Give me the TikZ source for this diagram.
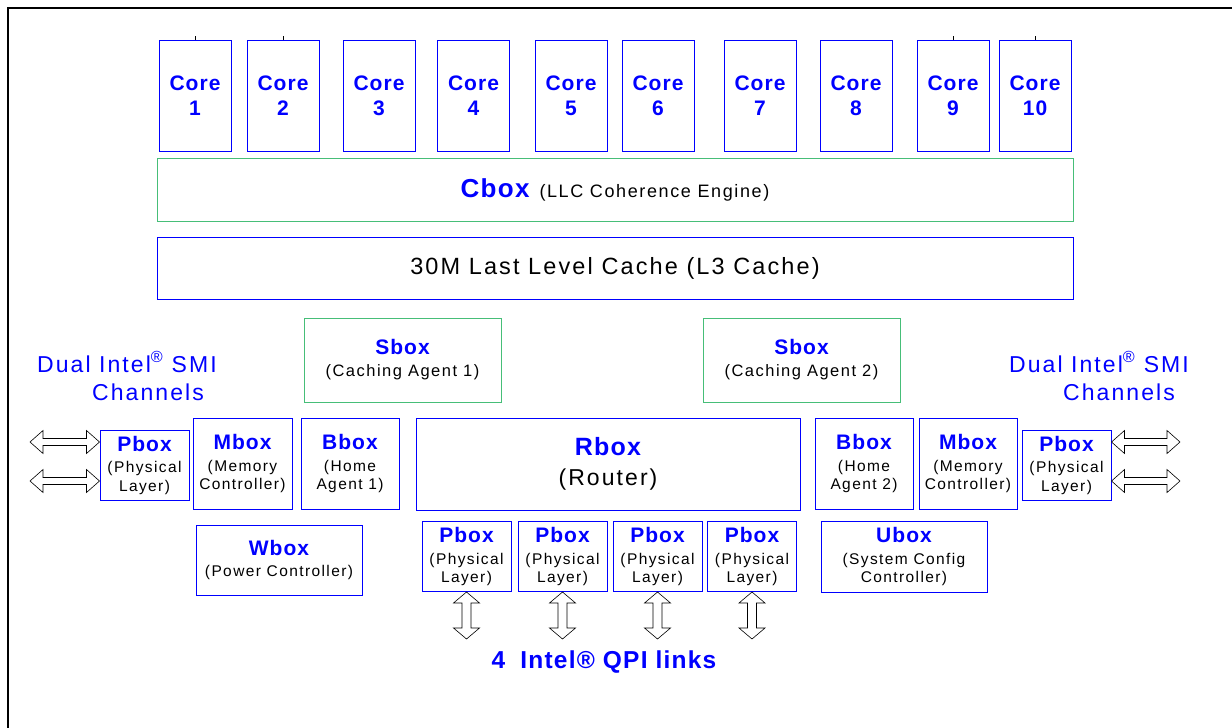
\documentclass[tikz,border=0pt]{standalone}
\usepackage{fontspec}
\setmainfont{Liberation Sans}[UprightFeatures={LetterSpace=9}, BoldFeatures={LetterSpace=5}]
\usetikzlibrary{calc}

\definecolor{intelblue}{RGB}{0,0,255}
\definecolor{agentgreen}{RGB}{70,190,120}
\newcommand{\unittitle}[1]{{\color{intelblue}\bfseries\fontsize{21}{24}\selectfont #1}}

\begin{document}
\begin{tikzpicture}[x=1pt, y=-1pt,
    unit/.style={draw=intelblue, line width=1pt, inner sep=0pt, align=center,
                 font=\fontsize{15.5}{18.5}\selectfont},
    core/.style={unit, minimum width=72, minimum height=111, text=intelblue,
                 font=\bfseries\fontsize{21}{25}\selectfont},
    phy/.style={unit, minimum width=89, minimum height=70},
    agent/.style={unit, minimum width=98, minimum height=91},
    caching/.style={unit, draw=agentgreen, minimum width=197, minimum height=84,
                 font=\fontsize{16.5}{19}\selectfont},
    banner/.style={text=intelblue, align=left, inner sep=0pt, font=\fontsize{23}{28}\selectfont},
    link arrow/.style n args={3}{draw=black, line width=0.6pt, fill=white, to path={
      -- ($(\tikztostart)!#1!(\tikztotarget)!#2!90:(\tikztotarget)$)
      -- ($(\tikztostart)!#1!(\tikztotarget)!#3!90:(\tikztotarget)$)
      -- ($(\tikztotarget)!#1!(\tikztostart)!#3!-90:(\tikztostart)$)
      -- ($(\tikztotarget)!#1!(\tikztostart)!#2!-90:(\tikztostart)$)
      -- (\tikztotarget)
      -- ($(\tikztotarget)!#1!(\tikztostart)!#2!90:(\tikztostart)$)
      -- ($(\tikztotarget)!#1!(\tikztostart)!#3!90:(\tikztostart)$)
      -- ($(\tikztostart)!#1!(\tikztotarget)!#3!-90:(\tikztotarget)$)
      -- ($(\tikztostart)!#1!(\tikztotarget)!#2!-90:(\tikztotarget)$)
      -- cycle}}]

  \useasboundingbox (0,0) rectangle (1232,728);
  \draw[line width=2pt] (1232,8) -- (8,8) -- (8,728);

  % cores
  \node[core] (c1) at (195,95.5) {Core\\1};
  \node[core] (c2) at (283,95.5) {Core\\2};
  \node[core] (c3) at (379,95.5) {Core\\3};
  \node[core] (c4) at (473.5,95.5) {Core\\4};
  \node[core] (c5) at (571,95.5) {Core\\5};
  \node[core] (c6) at (658,95.5) {Core\\6};
  \node[core] (c7) at (760,95.5) {Core\\7};
  \node[core] (c8) at (856,95.5) {Core\\8};
  \node[core] (c9) at (953,95.5) {Core\\9};
  \node[core] (c10) at (1035,95.5) {Core\\10};
  \foreach \c in {c1,c2,c9,c10}
    \draw[line width=0.6pt] (\c.north) -- ++(0,-4);

  \node[unit, draw=agentgreen, minimum width=916, minimum height=63,
        font=\fontsize{18}{21}\selectfont] (cbox) at (615,189.5)
        {{\color{intelblue}\bfseries\fontsize{26}{29}\selectfont Cbox}\hspace{10pt}(LLC Coherence Engine)};
  \node[unit, minimum width=916, minimum height=62,
        font=\fontsize{23.5}{27}\selectfont] (llc) at (615,268)
        {30M Last Level Cache (L3 Cache)};

  % caching agents
  \node[caching] (s1) at (402.5,360) {\unittitle{Sbox}\\[3pt](Caching Agent 1)};
  \node[caching] (s2) at (801.5,360) {\unittitle{Sbox}\\[3pt](Caching Agent 2)};

  \node[banner, anchor=west] (smil) at (37,376) {Dual Intel\textsuperscript{®} SMI\\\hspace*{55pt}Channels};
  \node[banner, anchor=west] (smir) at (1009,376) {Dual Intel\textsuperscript{®} SMI\\\hspace*{54pt}Channels};

  % left side
  \node[phy] (pl) at (144.5,465) {\unittitle{Pbox}\\[3pt](Physical\\Layer)};
  \node[agent, minimum width=99] (ml) at (242.5,463.5) {\unittitle{Mbox}\\[3pt](Memory\\Controller)};
  \node[agent] (bl) at (350,463.5) {\unittitle{Bbox}\\[3pt](Home\\Agent 1)};
  \node[unit, minimum width=166, minimum height=70] (w) at (279,560)
        {\unittitle{Wbox}\\[3pt](Power Controller)};

  % router
  \node[unit, minimum width=384, minimum height=92,
        font=\fontsize{23}{27}\selectfont] (r) at (608,464)
        {{\color{intelblue}\bfseries\fontsize{25}{28}\selectfont Rbox}\\[3pt](Router)};
  \node[phy] (q1) at (466.5,556.5) {\unittitle{Pbox}\\[3pt](Physical\\Layer)};
  \node[phy] (q2) at (562.5,556.5) {\unittitle{Pbox}\\[3pt](Physical\\Layer)};
  \node[phy] (q3) at (657.5,556.5) {\unittitle{Pbox}\\[3pt](Physical\\Layer)};
  \node[phy] (q4) at (752,556.5) {\unittitle{Pbox}\\[3pt](Physical\\Layer)};

  % right side
  \node[agent] (br) at (864,463.5) {\unittitle{Bbox}\\[3pt](Home\\Agent 2)};
  \node[agent] (mr) at (968,463.5) {\unittitle{Mbox}\\[3pt](Memory\\Controller)};
  \node[phy] (pr) at (1066.5,465) {\unittitle{Pbox}\\[3pt](Physical\\Layer)};
  \node[unit, minimum width=166, minimum height=71] (u) at (904,556.5)
        {\unittitle{Ubox}\\[3pt](System Config\\Controller)};

  \node[text=intelblue, font=\bfseries\fontsize{24.5}{28}\selectfont] (qpi) at (604,662)
        {4\hspace{15pt}Intel® QPI links};

  \coordinate (la) at (30,442);
  \coordinate (lb) at (30,481);
  \coordinate (ra) at (1180,442);
  \coordinate (rb) at (1180,481);
  \coordinate (qend) at (0,639);

  \path (la) edge[link arrow={13pt}{11.5pt}{3.5pt}] (pl.west |- la)
        (lb) edge[link arrow={13pt}{11.5pt}{3.5pt}] (pl.west |- lb)
        (pr.east |- ra) edge[link arrow={13pt}{11.5pt}{3.5pt}] (ra)
        (pr.east |- rb) edge[link arrow={13pt}{11.5pt}{3.5pt}] (rb)
        (q1.south) edge[link arrow={11pt}{13pt}{4.5pt}] (q1 |- qend)
        (q2.south) edge[link arrow={11pt}{13pt}{4.5pt}] (q2 |- qend)
        (q3.south) edge[link arrow={11pt}{13pt}{4.5pt}] (q3 |- qend)
        (q4.south) edge[link arrow={11pt}{13pt}{4.5pt}] (q4 |- qend);

\end{tikzpicture}
\end{document}
